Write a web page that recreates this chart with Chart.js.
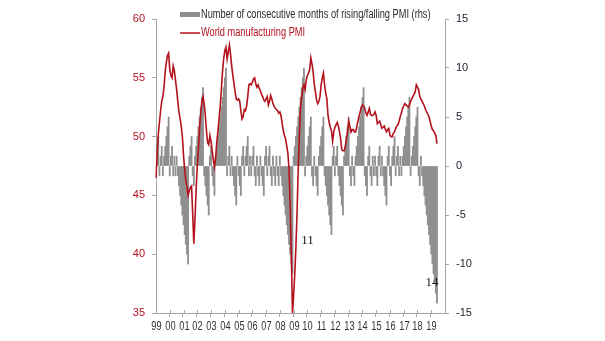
<!DOCTYPE html>
<html>
<head>
<meta charset="utf-8">
<script src="https://cdn.jsdelivr.net/npm/chart.js@4"></script>
<style>
  html, body { margin: 0; padding: 0; background: #fff; }
</style>
</head>
<body>
<canvas id="pmiChart" width="605" height="341"></canvas>
<script>
const yearLabels = ['99','00','01','02','03','04','05','06','07','08','09',
                    '10','11','12','13','14','15','16','17','18','19'];

// World manufacturing PMI, monthly from Jan 1999
const pmi = [
  46.5, 48.6, 50.2, 51.2, 52.2, 53.0, 53.4, 54.2, 55.5, 56.3, 56.9, 57.1,
  55.7, 55.2, 55.0, 56.0, 55.6, 54.8, 54.0, 53.0, 52.1, 51.5, 50.9, 50.0,
  48.4, 47.2, 46.3, 45.7, 45.0, 45.4, 45.7, 45.8, 43.4, 40.9, 43.0, 45.5,
  47.5, 49.0, 50.8, 52.0, 53.0, 53.4, 52.8, 51.8, 50.5, 49.5, 49.3, 50.1,
  49.6, 48.8, 48.0, 47.4, 48.2, 49.5, 50.5, 51.5, 52.6, 54.0, 55.5, 56.6,
  57.3, 57.6, 56.6, 57.2, 57.8, 57.0, 56.0, 55.2, 54.5, 53.8, 53.2, 53.1,
  53.2, 53.0, 52.2, 51.5, 51.7, 52.3, 52.2, 52.6, 53.4, 54.4, 54.5, 54.4,
  54.6, 54.9, 55.0, 54.5, 54.2, 54.4, 54.1, 53.9, 53.6, 53.4, 53.1, 53.0,
  53.2, 53.4, 52.7, 53.0, 53.5, 53.2, 52.8, 52.6, 52.4, 52.3, 52.2, 52.0,
  52.1, 51.8, 51.1, 50.5, 50.1, 49.8, 49.2, 48.6, 47.2, 44.0, 40.0, 35.0,
  36.5, 38.3, 40.6, 43.6, 47.2, 50.2, 52.4, 53.4, 54.1, 54.4, 54.0, 54.8,
  55.2, 55.4, 55.7, 56.7, 56.2, 55.5, 54.5, 53.8, 53.1, 52.8, 53.0, 53.4,
  54.4, 55.0, 55.4, 54.4, 53.7, 53.2, 51.8, 51.2, 50.8, 50.5, 49.6, 50.4,
  50.8, 51.0, 51.2, 50.9, 50.4, 49.8, 48.9, 48.8, 48.8, 49.1, 49.8, 50.4,
  51.3, 50.9, 50.4, 50.6, 50.6, 50.4, 50.4, 50.8, 51.3, 51.7, 52.1, 52.5,
  52.7, 52.6, 52.4, 52.0, 51.8, 52.1, 52.4, 51.9, 51.8, 51.8, 51.9, 52.1,
  51.8, 51.1, 51.2, 51.3, 51.0, 50.7, 50.8, 50.9, 50.6, 50.4, 50.6, 50.7,
  50.1, 50.0, 50.0, 50.3, 50.4, 50.7, 50.9, 51.0, 51.3, 51.7, 52.0, 52.4,
  52.6, 52.8, 52.7, 52.6, 52.5, 52.7, 53.0, 53.2, 53.4, 53.6, 53.8, 54.4,
  54.2, 54.0, 53.4, 53.2, 53.0, 52.8, 52.6, 52.3, 52.1, 51.9, 51.7, 51.3,
  50.9, 50.6, 50.5, 50.3, 50.1, 49.4
];

// consecutive months of rising (+) / falling (-) PMI
const streak = [
   1,  2,  3, -1,  1,  2, -1,  1,  2,  3,  4,  5,
  -1,  1,  2, -1,  1, -1,  1, -1, -2, -3, -4, -5,
  -6, -7, -8, -9,-10,  1,  2,  3, -1, -2,  1,  2,
   3,  4,  5,  6,  7,  8, -1, -2, -3, -4, -5,  1,
   2, -1, -2, -3,  1,  2,  3,  4,  5,  6,  7,  8,
   9, 10, -1,  1,  2, -1,  1, -1, -2, -3, -4,  1,
  -1, -2, -3,  1,  2, -1,  1,  2,  3, -1,  1, -1,
   1,  2, -1, -2,  1, -1, -2,  1, -1, -2, -3,  1,
   2, -1,  1,  2, -1, -2,  1, -1, -2,  1, -1, -2,
   1, -1, -2, -3, -4, -5, -6, -7, -8, -9,-10,-11,
   1,  2,  3,  4,  5,  6,  7,  8,  9, 10, -1,  1,
   2,  3,  4,  5, -1, -2,  1, -1, -2, -3,  1,  2,
   3,  4,  5, -1, -2, -3, -4, -5, -6, -7,  1,  2,
  -1,  1,  2, -1, -2, -3, -4, -5,  1,  2,  3,  4,
   5, -1, -2,  1, -1, -2,  1,  2,  3,  4,  5,  6,
   7,  8, -1, -2, -3,  1,  2, -1, -2,  1, -1,  1,
  -1, -2,  1,  2, -1,  1, -1, -2, -3, -4,  1,  2,
  -1, -2,  1,  2,  3, -1,  1,  2, -1,  1, -1,  1,
   2,  3,  4,  5,  6,  7, -1,  1,  2,  3,  4,  5,
   6, -1, -2,  1, -1, -2, -3, -4, -5, -6, -7, -8,
  -9,-10,-11,-12,-13,-14
];

// month slots Jan 1999 .. Jan 2020
const months = [];
for (let y = 1999; y <= 2019; y++) {
  for (let mo = 1; mo <= 12; mo++) months.push(y + '-' + String(mo).padStart(2, '0'));
}
months.push('2020-01');

const sans = '"Liberation Sans", Arial, sans-serif';
const red = '#b3121d';
const barGrey = '#8f8f8f';
const axisGrey = '#a6a6a6';
const squeeze = 0.77; // horizontal squeeze to mimic a narrow face

// bar counts called out in the chart
const callouts = [
  { index: 119, dx: 15, dy: -33 },
  { index: 245, dx: -5, dy: -21 }
];

function narrowText(ctx, text, x, y) {
  ctx.save();
  ctx.translate(x, y);
  ctx.scale(squeeze, 1);
  ctx.fillText(text, 0, 0);
  ctx.restore();
}

const legendAndNotes = {
  id: 'legendAndNotes',
  afterDraw(chart) {
    const ctx = chart.ctx;
    const xs = chart.scales.x;
    const ys = chart.scales.y1;
    ctx.save();

    // legend
    ctx.font = '12px ' + sans;
    ctx.textBaseline = 'middle';
    ctx.textAlign = 'left';
    ctx.fillStyle = barGrey;
    ctx.fillRect(180, 12, 20, 5);
    ctx.fillStyle = '#2b2b2b';
    narrowText(ctx, 'Number of consecutive months of rising/falling PMI (rhs)', 201, 15);
    ctx.strokeStyle = red;
    ctx.lineWidth = 1.5;
    ctx.beginPath();
    ctx.moveTo(180, 33);
    ctx.lineTo(200, 33);
    ctx.stroke();
    ctx.fillStyle = red;
    narrowText(ctx, 'World manufacturing PMI', 201, 33);

    // year labels and the upper half of the year ticks
    ctx.textAlign = 'center';
    ctx.fillStyle = '#333';
    ctx.strokeStyle = axisGrey;
    ctx.lineWidth = 1;
    const base = xs.top;
    yearLabels.forEach((lab, i) => {
      const x = Math.round(xs.getPixelForValue(i * 12)) + 0.5;
      ctx.beginPath();
      ctx.moveTo(x, base - 3);
      ctx.lineTo(x, base);
      ctx.stroke();
      narrowText(ctx, lab, x, base + 14);
    });

    // streak callouts
    ctx.font = '13px "Liberation Serif", "DejaVu Serif", serif';
    ctx.fillStyle = '#1a1a1a';
    callouts.forEach(c => {
      const v = streak[c.index];
      const x = xs.getPixelForValue(c.index) + c.dx;
      const y = ys.getPixelForValue(v) + c.dy;
      ctx.fillText(String(Math.abs(v)), x, y);
    });
    ctx.restore();
  }
};

new Chart(document.getElementById('pmiChart'), {
  type: 'bar',
  data: {
    labels: months,
    datasets: [
      {
        type: 'line',
        label: 'World manufacturing PMI',
        data: pmi,
        yAxisID: 'y',
        borderColor: red,
        borderWidth: 1.6,
        pointRadius: 0,
        tension: 0,
        order: 0
      },
      {
        label: 'Number of consecutive months of rising/falling PMI (rhs)',
        data: streak,
        yAxisID: 'y1',
        backgroundColor: barGrey,
        barPercentage: 1,
        categoryPercentage: 1,
        order: 1
      }
    ]
  },
  options: {
    responsive: false,
    animation: false,
    layout: { padding: { top: 19, left: 0, right: 0, bottom: 0 } },
    plugins: {
      legend: { display: false },
      tooltip: { enabled: false }
    },
    scales: {
      x: {
        offset: false,
        afterFit: s => { s.height = 28; },
        grid: {
          drawOnChartArea: false,
          tickLength: 4,
          color: c => (c.index % 12 === 0 && c.index < 252 ? axisGrey : 'rgba(0,0,0,0)')
        },
        border: { color: axisGrey },
        ticks: { display: false, autoSkip: false, maxRotation: 0, minRotation: 0 }
      },
      y: {
        position: 'left',
        min: 35,
        max: 60,
        afterFit: s => { s.width = 156; },
        grid: { drawOnChartArea: false, tickLength: 4, color: axisGrey },
        border: { color: axisGrey },
        ticks: { stepSize: 5, padding: 7, color: red, font: { family: sans, size: 11 } }
      },
      y1: {
        position: 'right',
        min: -15,
        max: 15,
        afterFit: s => { s.width = 160; },
        grid: { drawOnChartArea: false, tickLength: 4, color: axisGrey },
        border: { color: axisGrey },
        ticks: { stepSize: 5, padding: 7, color: '#1c1c2c', font: { family: sans, size: 11 } }
      }
    }
  },
  plugins: [legendAndNotes]
});
</script>
</body>
</html>
